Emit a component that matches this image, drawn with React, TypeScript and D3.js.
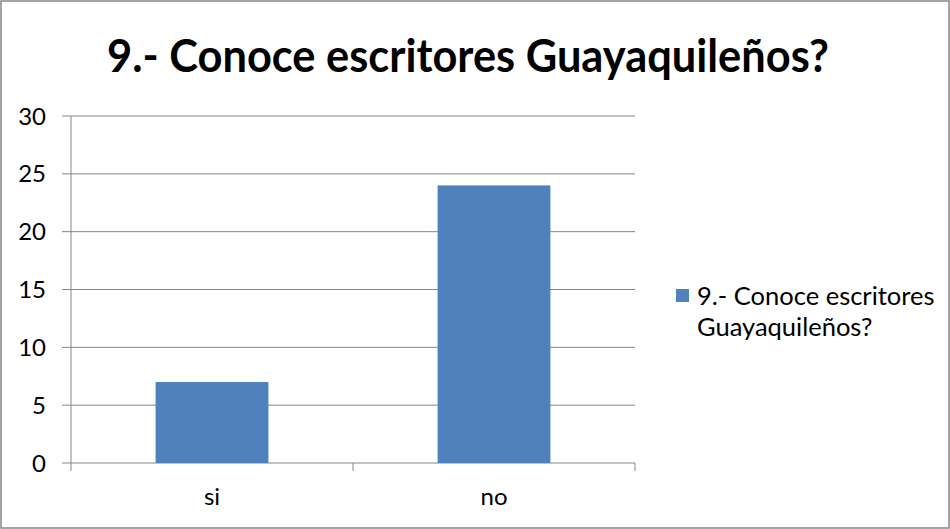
import React from "react";
import * as d3 from "d3";

const categories = ["si", "no"];
const values = [7, 24];
const yTicks = [0, 5, 10, 15, 20, 25, 30];
const title = "9.- Conoce escritores Guayaquileños?";
const legendLines = ["9.- Conoce escritores", "Guayaquileños?"];

export default function App() {
  const W = 950, H = 529;
  const left = 71, right = 635, top = 116, bottom = 463;
  const x = d3.scaleBand<string>().domain(categories).range([left, right]).paddingInner(0.6).paddingOuter(0.3);
  const band = d3.scaleBand<string>().domain(categories).range([left, right]);
  const y = d3.scaleLinear().domain([0, 30]).range([bottom, top]);
  const grid = "#868686";
  const font = "Lato, 'Open Sans', sans-serif";
  return (
    <svg width={W} height={H} style={{ position: "absolute", left: 0, top: 0, display: "block" }} fontFamily={font}>
      <rect x={0} y={0} width={W} height={H} fill="#fff" />
      <rect x={1} y={1} width={W - 2} height={H - 2} fill="none" stroke={grid} strokeWidth={1.5} />
      <text x={468} y={72} textAnchor="middle" fontSize={45} fontWeight="bold" textLength={722} lengthAdjust="spacingAndGlyphs">{title}</text>
      {yTicks.map(t => (
        <g key={t}>
          <line x1={62} x2={right} y1={y(t)} y2={y(t)} stroke={grid} strokeWidth={1} />
          <text x={46} y={y(t) + 8.5} textAnchor="end" fontSize={24}>{t}</text>
        </g>
      ))}
      <line x1={left} x2={left} y1={top} y2={bottom + 8} stroke={grid} strokeWidth={1} />
      {[...categories.map(c => band(c) as number), right].map((tx, i) => (
        i === 0 ? null : <line key={i} x1={tx} x2={tx} y1={bottom} y2={bottom + 8} stroke={grid} strokeWidth={1} />
      ))}
      {categories.map((c, i) => (
        <rect key={c} x={x(c)} y={y(values[i])} width={x.bandwidth()} height={bottom - y(values[i])} fill="#4F81BD" />
      ))}
      {categories.map(c => (
        <text key={c} x={(band(c) as number) + band.bandwidth() / 2} y={505} textAnchor="middle" fontSize={24}>{c}</text>
      ))}
      <rect x={676} y={289} width={13} height={13} fill="#4F81BD" />
      {legendLines.map((l, i) => (
        <text key={i} x={697} y={305 + i * 31} fontSize={25.5}>{l}</text>
      ))}
    </svg>
  );
}
